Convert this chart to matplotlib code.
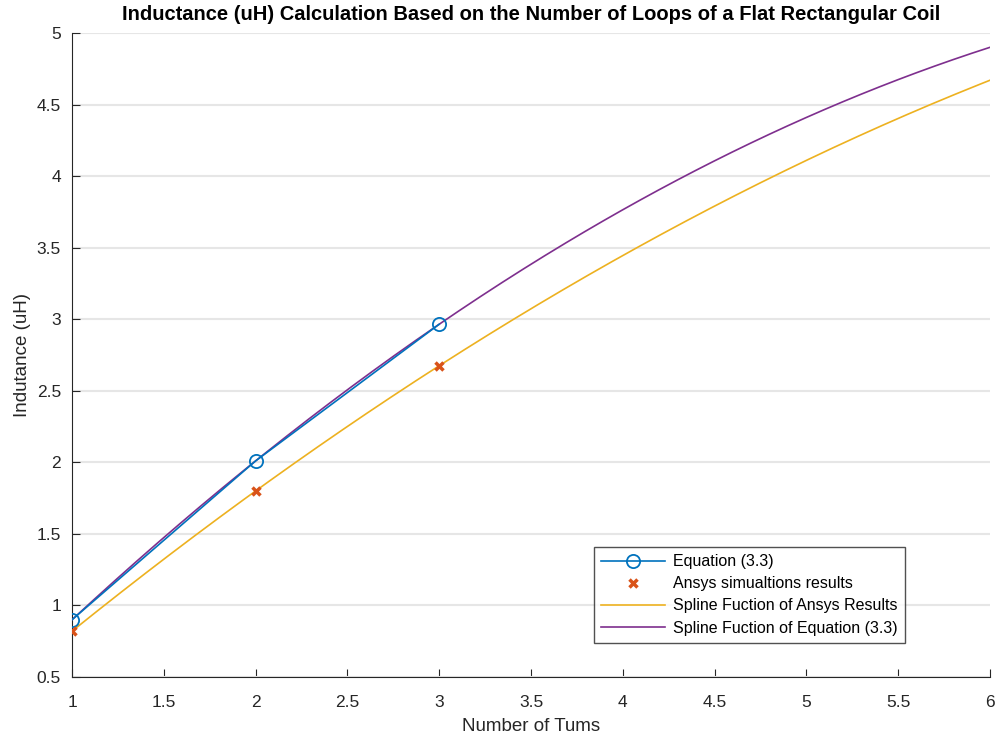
import numpy as np
import matplotlib.pyplot as plt
from matplotlib import font_manager

turns = [1, 2, 3]
equation_uh = [0.9, 2.01, 2.965]
ansys_uh = [0.82, 1.8, 2.675]

x_ticks = [1, 1.5, 2, 2.5, 3, 3.5, 4, 4.5, 5, 5.5, 6]
y_ticks = [0.5, 1, 1.5, 2, 2.5, 3, 3.5, 4, 4.5, 5]

BLUE = "#0072BD"
ORANGE = "#D95319"
YELLOW = "#EDB120"
PURPLE = "#7E2F8E"
TEXT = "#262626"

names = {f.name for f in font_manager.fontManager.ttflist}
family = "Liberation Sans Narrow" if "Liberation Sans Narrow" in names else "Liberation Sans"
plt.rcParams["font.family"] = [family, "DejaVu Sans"]


def spline_curve(x, y, x_new):
    # not-a-knot spline through three points reduces to a parabola
    coeffs = np.polyfit(x, y, 2)
    return np.polyval(coeffs, x_new)


fig = plt.figure(figsize=(9.97, 7.35), dpi=100)
ax = fig.add_axes([72 / 997, 1 - 677 / 735, (990 - 72) / 997, (677 - 33) / 735])

xs = np.linspace(1, 6, 300)
ax.plot(turns, equation_uh, "-o", color=BLUE, lw=1.2, ms=9.5, mfc="none",
        mew=1.3, label="Equation (3.3)", zorder=4)
ax.plot(turns, ansys_uh, "x", color=ORANGE, ms=6, mew=2.5,
        label="Ansys simualtions results", zorder=5)
ax.plot(xs, spline_curve(turns, ansys_uh, xs), color=YELLOW, lw=1.2,
        label="Spline Fuction of Ansys Results", zorder=3)
ax.plot(xs, spline_curve(turns, equation_uh, xs), color=PURPLE, lw=1.2,
        label="Spline Fuction of Equation (3.3)", zorder=3)

ax.set_xlim(1, 6)
ax.set_ylim(0.5, 5)
ax.set_xticks(x_ticks)
ax.set_xticklabels([f"{v:g}" for v in x_ticks])
ax.set_yticks(y_ticks)
ax.set_yticklabels([f"{v:g}" for v in y_ticks])
ax.yaxis.grid(True, color="#e6e6e6", lw=1.5)
ax.set_axisbelow(True)
for side in ("top", "right"):
    ax.spines[side].set_visible(False)
for side in ("left", "bottom"):
    ax.spines[side].set_color(TEXT)
ax.tick_params(direction="in", length=6, colors=TEXT, labelsize=12.5)
ax.tick_params(axis="y", pad=8)
ax.tick_params(axis="x", pad=13)

ax.set_xlabel("Number of Tums", fontsize=13.5, color=TEXT, labelpad=6)
ax.set_ylabel("Indutance (uH)", fontsize=13.5, color=TEXT)
ax.set_title("Inductance (uH) Calculation Based on the Number of Loops of a Flat Rectangular Coil",
             fontsize=14.5, fontweight="bold", color="black", pad=9)

leg = ax.legend(loc="lower right", bbox_to_anchor=(0.907, 0.053), borderaxespad=0,
                fontsize=11.5, frameon=True, fancybox=False, handlelength=4.0,
                borderpad=0.45, labelspacing=0.45, handletextpad=0.5)
leg.get_frame().set_edgecolor(TEXT)
leg.get_frame().set_linewidth(1.0)

fig.savefig("out.png", dpi=100)
